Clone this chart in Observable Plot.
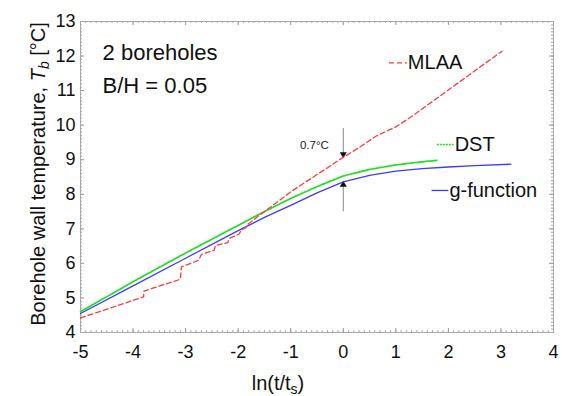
<!DOCTYPE html>
<html><head><meta charset="utf-8">
<script src="https://cdn.jsdelivr.net/npm/d3@7"></script>
<script src="https://cdn.jsdelivr.net/npm/@observablehq/plot@0.6"></script>
<style>
html,body{margin:0;padding:0;background:#fff;}
#chart{width:562px;height:396px;overflow:hidden;}
</style></head><body><div id="chart"></div>
<script>
// ---- data ----
const mlaaX = [-5, -3.8, -3.79, -3.1, -3.08, -2.75, -2.7, -2.46, -2.43, -2.2, -2.17, -1.98, -1.95, -1.85, -1.8, -1.64, -1.38, -1, -0.5, 0, 0.3, 0.62, 1.0, 1.3, 2.0, 3.02];
const mlaaY = [4.42, 5.03, 5.2, 5.54, 5.9, 6.09, 6.26, 6.38, 6.52, 6.6, 6.72, 6.85, 6.95, 7.04, 7.15, 7.34, 7.63, 8.07, 8.57, 9.07, 9.35, 9.68, 9.95, 10.25, 11.02, 12.14];
const dstX = [-5, -4, -3, -2, -1.5, -1, -0.5, 0, 0.5, 1, 1.5, 1.78];
const dstY = [4.6, 5.47, 6.3, 7.1, 7.5, 7.88, 8.22, 8.53, 8.72, 8.85, 8.94, 8.98];
const gX = [-5, -4, -3, -2, -1.5, -1, -0.5, 0, 0.5, 1, 1.5, 2, 2.5, 3.19];
const gY = [4.55, 5.35, 6.15, 6.95, 7.33, 7.68, 8.04, 8.36, 8.55, 8.67, 8.74, 8.79, 8.83, 8.87];
const seriesNames = ["MLAA", "DST", "g-function"];
const xTicks = [-5, -4, -3, -2, -1, 0, 1, 2, 3, 4];
const yTicks = [4, 5, 6, 7, 8, 9, 10, 11, 12, 13];
const diffLabel = "0.7°C";
const arrowTop = 9.07, arrowBottom = 8.36;

// ---- layout ----
const W = 562, H = 396, mL = 80, mR = 9, mT = 21, mB = 64;
const fh = H - mT - mB, fw = W - mL - mR;
const rows = (xs, ys) => xs.map((x, i) => ({x, y: ys[i]}));
const xMinor = d3.range(-50, 41).map(d => d / 10);
const yMinor = d3.range(40, 131).map(d => d / 10);
const FONT = "'Liberation Sans', Arial, Helvetica, sans-serif";
const RED = "#ff3c3c", GREEN = "#22dd22", BLUE = "#3c3cff";

const notes = [
  {x: -4.58, y: 12.08, t: "2 boreholes", s: 22},
  {x: -4.58, y: 11.13, t: "B/H = 0.05", s: 22}
];
const legend = [
  {x1: 0.87, x2: 1.21, y: 11.8, t: seriesNames[0], c: RED, dash: "5,3"},
  {x1: 1.78, x2: 2.1, y: 9.44, t: seriesNames[1], c: GREEN, dash: "2,1"},
  {x1: 1.68, x2: 2.0, y: 8.11, t: seriesNames[2], c: BLUE, dash: "none"}
];

const chart = Plot.plot({
  width: W, height: H, marginLeft: mL, marginRight: mR, marginTop: mT, marginBottom: mB,
  style: {fontFamily: FONT, background: "white", overflow: "visible"},
  x: {domain: [-5, 4]},
  y: {domain: [4, 13]},
  marks: [
    // minor ticks (inward)
    Plot.ruleX(xMinor, {x: d => d, insetTop: fh - 2, stroke: "#aaa"}),
    Plot.ruleX(xMinor, {x: d => d, insetBottom: fh - 2, stroke: "#aaa"}),
    Plot.ruleY(yMinor, {y: d => d, insetRight: fw - 2, stroke: "#aaa"}),
    Plot.ruleY(yMinor, {y: d => d, insetLeft: fw - 2, stroke: "#aaa"}),
    // major ticks (inward)
    Plot.ruleX(xTicks, {x: d => d, insetTop: fh - 4, stroke: "#999"}),
    Plot.ruleX(xTicks, {x: d => d, insetBottom: fh - 4, stroke: "#999"}),
    Plot.ruleY(yTicks, {y: d => d, insetRight: fw - 4, stroke: "#999"}),
    Plot.ruleY(yTicks, {y: d => d, insetLeft: fw - 4, stroke: "#999"}),
    Plot.frame({stroke: "#aaa"}),
    Plot.axisX({ticks: xTicks, tickSize: 0, tickPadding: 13, fontSize: 18, fill: "#111", tickFormat: d => String(d), label: null}),
    Plot.axisY({ticks: yTicks, tickSize: 0, tickPadding: 5, fontSize: 18, fill: "#111", tickFormat: d => String(d), label: null}),
    // difference arrows
    Plot.ruleX([0], {x: d => d, y1: 9.9, y2: arrowTop, stroke: "#888"}),
    Plot.ruleX([0], {x: d => d, y1: 7.49, y2: arrowBottom, stroke: "#888"}),
    Plot.dot([arrowTop], {x: 0, y: d => d, dy: -3, symbol: "triangle", rotate: 180, r: 2.6, fill: "#111", stroke: null}),
    Plot.dot([arrowBottom], {x: 0, y: d => d, dy: 3, symbol: "triangle", r: 2.6, fill: "#111", stroke: null}),
    Plot.text([diffLabel], {x: -0.55, y: 9.43, text: d => d, fontSize: 11.5, fill: "#222"}),
    // series
    Plot.line(rows(gX, gY), {x: "x", y: "y", stroke: BLUE, strokeWidth: 1.3}),
    Plot.line(rows(dstX, dstY), {x: "x", y: "y", stroke: GREEN, strokeWidth: 1.7, strokeDasharray: "3,1"}),
    Plot.line(rows(mlaaX, mlaaY), {x: "x", y: "y", stroke: RED, strokeWidth: 1.3, strokeDasharray: "5,3"}),
    // labels
    Plot.text(notes, {x: "x", y: "y", text: "t", fontSize: d => d.s, textAnchor: "start", fill: "#111"}),
    ...legend.map(l => Plot.link([l], {x1: "x1", x2: "x2", y1: "y", y2: "y", stroke: l.c, strokeWidth: 1.3, strokeDasharray: l.dash})),
    Plot.text(legend, {x: "x2", y: "y", text: "t", fontSize: 20, textAnchor: "start", fill: "#111", dx: 1})
  ]
});
document.getElementById("chart").appendChild(chart);

const svg = d3.select(chart);

// axis titles with sub/italic
const yl = svg.append("text")
  .attr("transform", "translate(45,174) rotate(-90)")
  .attr("text-anchor", "middle")
  .attr("font-family", FONT).attr("font-size", 20).attr("fill", "#111");
yl.append("tspan").text("Borehole wall temperature, ");
yl.append("tspan").attr("font-style", "italic").text("T");
yl.append("tspan").attr("font-style", "italic").attr("font-size", 14).attr("dy", 4).text("b");
yl.append("tspan").attr("dy", -4).text(" [°C]");

const xl = svg.append("text")
  .attr("x", 278).attr("y", 390)
  .attr("font-family", FONT).attr("font-size", 20).attr("fill", "#111");
xl.append("tspan").text("ln(t/t");
xl.append("tspan").attr("font-size", 14).attr("dy", 4).text("s");
xl.append("tspan").attr("dy", -4).text(")");
</script></body></html>
